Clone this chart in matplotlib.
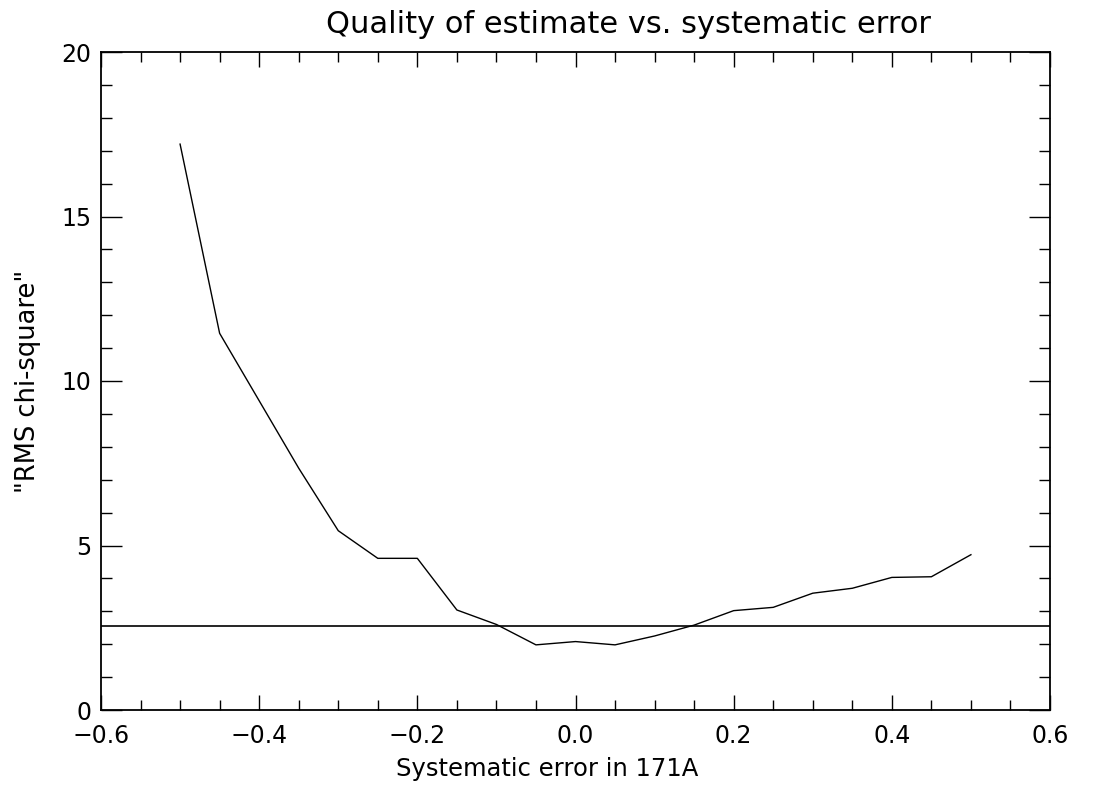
import matplotlib
matplotlib.use("Agg")
import matplotlib.pyplot as plt
from matplotlib.ticker import MultipleLocator, FuncFormatter

# Data
sys_error = [-0.50, -0.45, -0.40, -0.35, -0.30, -0.25, -0.20, -0.15, -0.10, -0.05,
             0.00, 0.05, 0.10, 0.15, 0.20, 0.25, 0.30, 0.35, 0.40, 0.45, 0.50]
rms_chi2 = [17.2, 11.45, 9.4, 7.35, 5.45, 4.61, 4.61, 3.04, 2.6, 1.98,
            2.08, 1.98, 2.25, 2.58, 3.02, 3.12, 3.55, 3.7, 4.03, 4.05, 4.72]
threshold = 2.55

title = "Quality of estimate vs. systematic error"
xlabel = "Systematic error in 171A"
ylabel = '"RMS chi-square"'

plt.rcParams['font.family'] = ['DejaVu Sans']

fig = plt.figure(figsize=(10.94, 7.89), dpi=100)
ax = fig.add_axes([101/1094, 79/789, (1050-101)/1094, (710-52)/789])

ax.plot(sys_error, rms_chi2, color='black', lw=1.0)
ax.axhline(threshold, color='black', lw=1.2)

ax.set_xlim(-0.6, 0.6)
ax.set_ylim(0, 20)
ax.xaxis.set_major_locator(MultipleLocator(0.2))
ax.xaxis.set_minor_locator(MultipleLocator(0.05))
ax.yaxis.set_major_locator(MultipleLocator(5))
ax.yaxis.set_minor_locator(MultipleLocator(1))
ax.xaxis.set_major_formatter(FuncFormatter(
    lambda v, p: ("\u2212" if v < -1e-9 else "") + "%.1f" % abs(v)))
ax.yaxis.set_major_formatter(FuncFormatter(lambda v, p: "%d" % round(v)))

ax.tick_params(axis='both', which='both', direction='in', top=True, right=True,
               width=1.0, labelsize=17, colors='black')
ax.tick_params(axis='x', which='major', length=10.8, pad=10)
ax.tick_params(axis='x', which='minor', length=7.2)
ax.tick_params(axis='y', which='major', length=15, pad=7)
ax.tick_params(axis='y', which='minor', length=8)

for s in ax.spines.values():
    s.set_linewidth(1.3)
    s.set_color('black')

ax.set_title(title, fontsize=22, pad=14, x=(628 - 101) / 949)
ax.set_xlabel(xlabel, fontsize=17.5)
ax.xaxis.set_label_coords((547 - 101) / 949, -0.072)
ax.set_ylabel(ylabel, fontsize=18.5)
ax.yaxis.set_label_coords(-0.063, 0.5)

fig.savefig("out.png", dpi=100, facecolor='white')
